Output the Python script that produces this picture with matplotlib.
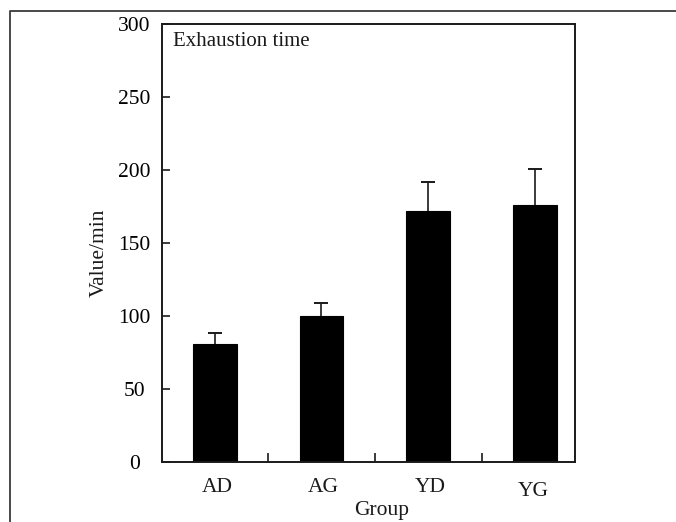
import matplotlib

matplotlib.use("Agg")

import matplotlib.pyplot as plt
import matplotlib.transforms as mtransforms
from matplotlib.lines import Line2D

plt.rcParams["font.family"] = ["Liberation Serif", "DejaVu Serif"]

INK = "#1a1a1a"
FRAME = "#3a3a3a"

groups = ["AD", "AG", "YD", "YG"]
values = [81, 100, 172, 176]
errors = [7, 9, 20, 25]
positions = [1, 2, 3, 4]
yticks = [0, 50, 100, 150, 200, 250, 300]

W, H = 676, 522
fig = plt.figure(figsize=(W / 100, H / 100), dpi=100, facecolor="white")

# outer frame (left + top only, as in the scan)
fig.add_artist(Line2D([10 / W, 10 / W, 1], [0, 1 - 11 / H, 1 - 11 / H],
                      transform=fig.transFigure, color=FRAME, lw=1.3))

ax = fig.add_axes([162 / W, 1 - 461.7 / H, (575.3 - 162) / W, (461.7 - 24.3) / H])

# upper error only
tops = [v + e for v, e in zip(values, errors)]
eb = ax.errorbar(positions, values, yerr=[[0] * len(errors), errors], fmt="none",
                 ecolor=INK, elinewidth=1.2, capthick=1.2, capsize=4.8, zorder=1)
for cap in eb[1]:
    cap.set_data(positions, tops)  # keep only the upper caps
ax.bar(positions, values, width=0.41, color="black", edgecolor="black", linewidth=0.8,
       zorder=2)

ax.set_xlim(0.507, 4.376)
ax.set_ylim(0, 300)

ax.set_yticks(yticks)
ax.set_yticklabels([str(v) for v in yticks], fontsize=15.5, ha="center")
ax.tick_params(axis="y", direction="in", length=6, width=1.2, color=INK, pad=20)

ax.set_xticks([1.5, 2.5, 3.5])
ax.set_xticklabels([])
ax.tick_params(axis="x", direction="in", length=6.5, width=1.2, color=INK)

for s in ax.spines.values():
    s.set_linewidth(1.4)
    s.set_color(INK)
    s.set_zorder(3)

# category labels under each bar
trans = mtransforms.blended_transform_factory(ax.transData, fig.transFigure)
label_dx = [0.02, 0.02, 0.02, -0.02]
label_y = [487, 488, 487, 491.5]
for x, name, dx, y in zip(positions, groups, label_dx, label_y):
    ax.text(x + dx, 1 - y / H, name, transform=trans, ha="center", va="center",
            fontsize=15.5, color=INK)

fig.text(381.7 / W, 1 - 510 / H, "Group", ha="center", va="center", fontsize=15.5, color=INK)
fig.text(99 / W, 1 - 253 / H, "Value/min", ha="center", va="center", rotation=90,
         fontsize=15.5, color=INK)

ax.text(173 / W, 1 - 41.5 / H, "Exhaustion time", transform=fig.transFigure,
        ha="left", va="center", fontsize=15, color=INK)

fig.savefig("out.png", dpi=100, facecolor="white")
plt.close(fig)
